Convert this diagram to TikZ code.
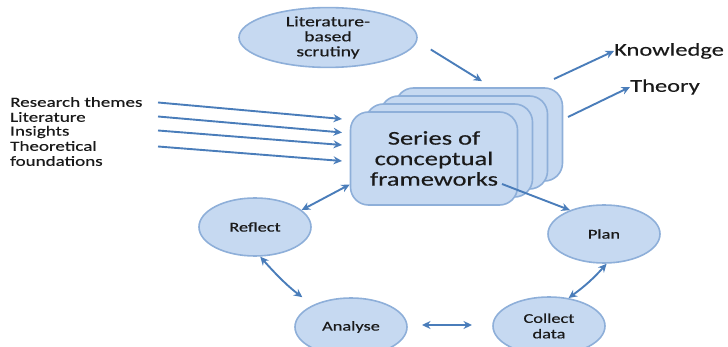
\documentclass[tikz,border=0pt]{standalone}
\usepackage{fontspec}
\setmainfont[FakeStretch=1.36,FakeBold=0.35]{Carlito}
\usetikzlibrary{arrows.meta,shapes.geometric}
\definecolor{shapefill}{HTML}{C6D9F1}
\definecolor{shapeedge}{HTML}{8EAFD9}
\definecolor{linkblue}{HTML}{4A7DBA}
\definecolor{inkdark}{HTML}{1A1A1A}

\begin{document}
\begin{tikzpicture}[x=1pt,y=-1pt,
  stage/.style={ellipse, draw=shapeedge, fill=shapefill, line width=1.6pt,
    minimum width=112pt, minimum height=58pt, inner sep=0pt, align=center,
    text=inkdark, font=\fontsize{13.5}{15.5}\selectfont},
  framebox/.style={rectangle, rounded corners=18pt, draw=shapeedge, fill=shapefill,
    line width=1.6pt, minimum width=167pt, minimum height=93pt},
  srctext/.style={anchor=west, inner sep=0pt, text=inkdark,
    font=\fontsize{14}{16}\selectfont},
  outtext/.style={anchor=west, inner sep=0pt, text=inkdark,
    font=\fontsize{18}{20}\selectfont},
  tip/.tip={Stealth[length=8.5pt,width=8pt]},
  link/.style={draw=linkblue, line width=1.9pt, -tip},
  twoway/.style={draw=linkblue, line width=1.9pt, tip-tip},
]
\useasboundingbox (0,0) rectangle (728,347);

% stacked conceptual frameworks, back to front
\foreach \k/\nm in {3/frc,2/frb,1/fra}
  \node[framebox] (\nm) at ({434+15*\k},{158.5-8*\k}) {};
\node[framebox, align=center, text=inkdark, font=\fontsize{19.5}{20.5}\selectfont]
  (frames) at (434,158.5) {Series of\\conceptual\\frameworks};

% literature scrutiny
\node[stage, minimum width=178pt, minimum height=52pt, font=\fontsize{14.5}{15}\selectfont]
  (scrutiny) at (328,37.5) {Literature-\\based\\scrutiny};

% the cycle
\node[stage] (reflect) at (255,227) {Reflect};
\node[stage] (plan)    at (604,234) {Plan};
\node[stage] (analyse) at (351,327) {Analyse};
\node[stage] (collect) at (549,326) {Collect\\data};

% inputs on the left
\node[srctext] (themes) at (10,102) {Research themes};
\node[srctext] (lit)    at (10,117) {Literature};
\node[srctext] (ins)    at (10,132) {Insights};
\node[srctext] (theo)   at (10,146) {Theoretical};
\node[srctext] (found)  at (10,161) {foundations};

\coordinate (s1) at (158,102.5); \coordinate (e1) at (342,119);
\coordinate (s2) at (158,116.5); \coordinate (e2) at (342,132.5);
\coordinate (s3) at (158,130.5); \coordinate (e3) at (342,145);
\coordinate (s4) at (158,146.5); \coordinate (e4) at (342,161);
\foreach \i in {1,...,4} \draw[link] (s\i) -- (e\i);

% outputs on the right
\node[outtext] (know)   at (614,51) {Knowledge};
\node[outtext] (theory) at (630,87) {Theory};
\coordinate (kstart) at (554,79);
\coordinate (tstart) at (568,117);
\draw[link] (kstart) -- (know.west);
\draw[link] (tstart) -- (theory.west);

% connectors
\coordinate (scrstart) at ([shift={(13,12)}]scrutiny.east);
\coordinate (scrend) at ([shift={(3,-6)}]frc.north);
\draw[link] (scrstart) -- (scrend);
\coordinate (frout) at (502,184);
\draw[link] (frout) -- (plan.145);
\draw[twoway] ([yshift=-26pt]frames.west) -- (reflect.20);
\draw[twoway, shorten >=13pt] (reflect.-80) to[bend right=6] (analyse.150);
\draw[twoway] (plan.-85) to[bend left=6] (collect.55);
\coordinate (al) at (422,325);
\coordinate (ar) at (472,325);
\draw[twoway] (al) -- (ar);
\end{tikzpicture}
\end{document}
